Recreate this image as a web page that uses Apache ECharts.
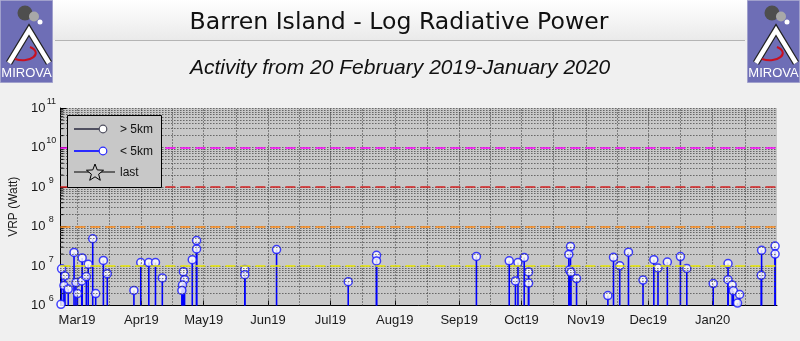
<!DOCTYPE html>
<html><head><meta charset="utf-8">
<script src="https://cdn.jsdelivr.net/npm/echarts@6/dist/echarts.min.js"></script>
<style>html,body{margin:0;padding:0;background:#f0f0f0}#c{width:800px;height:341px}</style>
</head><body><div id="c"></div>
<script>
// ---- data ----
const dates = ['2019-02-21 07:00','2019-02-21 14:00','2019-02-23 05:00','2019-02-22 17:00','2019-02-24 19:00','2019-02-27 14:00','2019-02-28 12:00','2019-03-01 05:00','2019-03-03 12:00','2019-03-03 07:00',
'2019-03-05 12:00','2019-03-06 10:00','2019-03-08 14:00','2019-03-10 00:00','2019-03-13 17:00','2019-03-15 14:00','2019-03-28 10:00','2019-03-31 17:00','2019-04-04 14:00','2019-04-07 19:00',
'2019-04-11 02:00','2019-04-21 05:00','2019-04-21 19:00','2019-04-20 19:00','2019-04-20 12:00','2019-04-25 12:00','2019-04-27 14:00','2019-04-27 14:00','2019-05-20 19:00','2019-05-20 19:00',
'2019-06-05 02:00','2019-07-09 14:00','2019-07-23 05:00','2019-07-23 05:00','2019-09-09 07:00','2019-09-25 02:00','2019-09-28 02:00','2019-09-29 07:00','2019-10-02 07:00','2019-10-04 10:00',
'2019-10-04 10:00','2019-10-24 14:00','2019-10-23 19:00','2019-10-24 02:00','2019-10-24 19:00','2019-10-27 12:00','2019-11-11 14:00','2019-11-14 07:00','2019-11-17 07:00','2019-11-21 12:00',
'2019-11-28 12:00','2019-12-03 17:00','2019-12-05 17:00','2019-12-10 05:00','2019-12-16 12:00','2019-12-19 14:00','2020-01-01 07:00','2020-01-08 10:00','2020-01-08 10:00','2020-01-10 10:00',
'2020-01-11 00:00','2020-01-14 00:00','2020-01-13 00:00','2020-01-24 14:00','2020-01-24 10:00','2020-01-31 02:00','2020-01-31 02:00'];
const vrp = [1.07e6,8.5e6,5.6e6,3.2e6,2.6e6,2.2e7,3.8e6,2.0e6,1.6e7,4.2e6,
5.4e6,1.1e7,4.9e7,2.0e6,1.38e7,6.4e6,2.4e6,1.22e7,1.22e7,1.22e7,
5.0e6,7.2e6,4.5e6,3.3e6,2.4e6,1.45e7,2.7e7,4.4e7,8.1e6,6.0e6,
2.6e7,4.0e6,1.86e7,1.34e7,1.75e7,1.35e7,4.2e6,1.22e7,1.63e7,7.1e6,
3.7e6,3.1e7,1.96e7,7.9e6,6.9e6,4.8e6,1.78e6,1.66e7,1.02e7,2.24e7,
4.4e6,1.45e7,8.9e6,1.26e7,1.73e7,8.7e6,3.6e6,1.15e7,4.5e6,3.3e6,
2.35e6,1.9e6,1.15e6,2.5e7,5.8e6,3.2e7,2.0e7];
const monthTicks = ['2019-03-01','2019-04-01','2019-05-01','2019-06-01','2019-07-01','2019-08-01','2019-09-01','2019-10-01','2019-11-01','2019-12-01','2020-01-01'];
const monthLabels = ['Mar19','Apr19','May19','Jun19','Jul19','Aug19','Sep19','Oct19','Nov19','Dec19','Jan20'];
const midMonthGrid = ['2019-03-16 12:00','2019-04-16 00:00','2019-05-16 12:00','2019-06-16 00:00','2019-07-16 12:00','2019-08-16 12:00','2019-09-16 00:00','2019-10-16 12:00','2019-11-16 00:00','2019-12-16 12:00','2020-01-16 12:00'];
const thresholds = [1e7, 1e8, 1e9, 1e10];
const thresholdColors = ['#e8e800', '#ff8c1a', '#d42020', '#ff00ff'];
const xMin = '2019-02-21', xMax = '2020-02-01';
const yMin = 1e6, yMax = 1e11;

const parseT = s => { const m = s.match(/(\d+)-(\d+)-(\d+)(?:[ T](\d+):(\d+))?/); return Date.UTC(+m[1], +m[2] - 1, +m[3], +(m[4] || 0), +(m[5] || 0)); };
const tickTs = monthTicks.map(parseT);
const points = dates.map((d, i) => [parseT(d), vrp[i]]);
const xMinT = parseT(xMin), xMaxT = parseT(xMax);

// minor log values (2..9 x 10^n) for gridlines / ticks
const minorVals = [];
for (let e = 6; e < 11; e++) for (let m = 2; m <= 9; m++) minorVals.push(m * Math.pow(10, e));

const FONT = 'Liberation Sans, Arial, sans-serif';

function logo(x0) {
  return {
    type: 'group', x: x0, y: 0, silent: true,
    children: [
      {type: 'rect', shape: {x: 0.5, y: 0.5, width: 52, height: 82}, style: {fill: '#6e6eb6', stroke: '#a0a0cc', lineWidth: 1}},
      {type: 'circle', shape: {cx: 25, cy: 13, r: 7.5}, style: {fill: '#4e4e4e'}},
      {type: 'circle', shape: {cx: 34, cy: 16.5, r: 5}, style: {fill: '#a8a8a8'}},
      {type: 'circle', shape: {cx: 40, cy: 22, r: 2.5}, style: {fill: '#ffffff'}},
      {type: 'polyline', shape: {points: [[9, 63], [29, 30], [49, 63]]}, style: {stroke: '#222', lineWidth: 7, fill: null, lineJoin: 'miter'}},
      {type: 'polyline', shape: {points: [[9, 63], [29, 30], [49, 63]]}, style: {stroke: '#fff', lineWidth: 4.5, fill: null, lineJoin: 'miter'}},
      {type: 'bezierCurve', shape: {x1: 15, y1: 59, cpx1: 30, cpy1: 64, cpx2: 44, cpy2: 53, x2: 30, y2: 47}, style: {stroke: '#c81020', lineWidth: 2, fill: null}},
      {type: 'text', x: 26.5, y: 73, style: {text: 'MIROVA', fill: '#fff', font: '13px ' + FONT, align: 'center', verticalAlign: 'middle'}}
    ]
  };
}

function starPts(cx, cy, R, r) {
  const p = [];
  for (let i = 0; i < 10; i++) {
    const a = -Math.PI / 2 + i * Math.PI / 5;
    const rr = i % 2 ? r : R;
    p.push([cx + rr * Math.cos(a), cy + rr * Math.sin(a)]);
  }
  return p;
}

const LZ = 100;
const chart = echarts.init(document.getElementById('c'), null, {renderer: 'canvas'});
const option = {
  backgroundColor: '#f0f0f0',
  animation: false,
  grid: {left: 60, right: 23, top: 108, bottom: 35.5, show: true, backgroundColor: '#c8c8c8', borderWidth: 0},
  xAxis: {
    type: 'value', min: xMinT, max: xMaxT,
    axisLine: {show: true, lineStyle: {color: '#000', width: 1}},
    axisTick: {show: true, inside: true, length: 5, lineStyle: {color: '#000'}, customValues: tickTs},
    axisLabel: {
      show: true, customValues: tickTs, margin: 8, color: '#1a1a1a', fontSize: 13, fontFamily: FONT,
      formatter: v => { const i = tickTs.indexOf(+v); return i >= 0 ? monthLabels[i] : ''; }
    },
    splitLine: {show: false}
  },
  yAxis: {
    type: 'log', logBase: 10, min: yMin, max: yMax,
    name: 'VRP (Watt)', nameLocation: 'middle', nameGap: 34, nameRotate: 90,
    nameTextStyle: {color: '#1a1a1a', fontSize: 12, fontFamily: FONT},
    axisLine: {show: true, lineStyle: {color: '#000', width: 1}},
    axisTick: {show: true, inside: true, length: 6, lineStyle: {color: '#000'}},
    axisLabel: {
      margin: 4, align: 'right',
      formatter: v => '{b|10}{e|' + Math.round(Math.log10(v)) + '}',
      rich: {
        b: {fontSize: 13, fontFamily: FONT, color: '#1a1a1a'},
        e: {fontSize: 9, fontFamily: FONT, color: '#1a1a1a', width: 10, align: 'left', padding: [0, 0, 13, 1]}
      }
    },
    splitLine: {show: true, lineStyle: {color: '#333', type: [1, 2], width: 1}}
  },
  graphic: [
    {type: 'rect', silent: true, shape: {x: 53, y: 0, width: 694, height: 40},
      style: {fill: new echarts.graphic.LinearGradient(0, 0, 0, 1, [{offset: 0, color: '#ffffff'}, {offset: 1, color: '#eaeaea'}])}},
    {type: 'line', silent: true, shape: {x1: 55, y1: 40.5, x2: 745, y2: 40.5}, style: {stroke: '#b4b4b4', lineWidth: 1}},
    {type: 'text', x: 399, y: 23, style: {text: 'Barren Island - Log Radiative Power', font: '23.6px DejaVu Sans, sans-serif', fill: '#111', align: 'center', verticalAlign: 'middle'}},
    {type: 'text', x: 400, y: 68, style: {text: 'Activity from 20 February 2019-January 2020', font: 'italic 21px ' + FONT, fill: '#111', align: 'center', verticalAlign: 'middle'}},
    logo(0), logo(747),
    {type: 'rect', z: LZ, silent: true, shape: {x: 67.5, y: 115.5, width: 94, height: 72}, style: {fill: '#c8c8c8', stroke: '#000', lineWidth: 1}},
    {type: 'line', z: LZ + 1, silent: true, shape: {x1: 74, y1: 129, x2: 103, y2: 129}, style: {stroke: '#505060', lineWidth: 2}},
    {type: 'circle', z: LZ + 2, silent: true, shape: {cx: 103, cy: 129, r: 3.8}, style: {fill: '#fff', stroke: '#505060', lineWidth: 1.2}},
    {type: 'text', z: LZ + 1, silent: true, x: 120, y: 130, style: {text: '> 5km', font: '12px ' + FONT, fill: '#111', verticalAlign: 'middle'}},
    {type: 'line', z: LZ + 1, silent: true, shape: {x1: 74, y1: 151, x2: 103, y2: 151}, style: {stroke: '#2a2aff', lineWidth: 2}},
    {type: 'circle', z: LZ + 2, silent: true, shape: {cx: 103, cy: 151, r: 3.8}, style: {fill: '#fff', stroke: '#2a2aff', lineWidth: 1.2}},
    {type: 'text', z: LZ + 1, silent: true, x: 120, y: 152, style: {text: '< 5km', font: '12px ' + FONT, fill: '#111', verticalAlign: 'middle'}},
    {type: 'line', z: LZ + 1, silent: true, shape: {x1: 74, y1: 172, x2: 115, y2: 172}, style: {stroke: '#000', lineWidth: 1}},
    {type: 'polygon', z: LZ + 2, silent: true, shape: {points: starPts(95, 173, 9, 3.8)}, style: {fill: '#c8c8c8', stroke: '#000', lineWidth: 1}},
    {type: 'text', z: LZ + 1, silent: true, x: 120, y: 173, style: {text: 'last', font: '12px ' + FONT, fill: '#111', verticalAlign: 'middle'}}
  ],
  series: [
    { // grid helpers
      type: 'line', data: [], z: 1, silent: true,
      markLine: {
        silent: true, symbol: 'none', label: {show: false}, animation: false,
        data: [].concat(
          minorVals.map(v => ({yAxis: v, lineStyle: {color: '#333', type: [1, 2], width: 1}})),
          monthTicks.concat(midMonthGrid).map(d => ({xAxis: parseT(d), lineStyle: {color: '#333', type: [1, 2], width: 1}})),
          thresholds.map((v, i) => ({yAxis: v, lineStyle: {color: thresholdColors[i], type: [10, 5], width: 1.6}}))
        )
      }
    },
    { // minor y ticks on left axis
      type: 'custom', z: 2, silent: true, clip: false,
      data: minorVals.map(v => [xMinT, v]),
      renderItem: (params, api) => {
        const p = api.coord([api.value(0), api.value(1)]);
        return {type: 'line', shape: {x1: p[0], y1: p[1], x2: p[0] + 3, y2: p[1]}, style: {stroke: '#000', lineWidth: 1}};
      }
    },
    { // stems
      type: 'custom', name: '< 5km', z: 3, silent: true,
      data: points, encode: {x: 0, y: 1},
      renderItem: (params, api) => {
        const t = api.value(0), v = api.value(1);
        const top = api.coord([t, v]), bot = api.coord([t, yMin]);
        return {type: 'line', shape: {x1: top[0], y1: top[1], x2: bot[0], y2: bot[1]}, style: {stroke: '#0000ff', lineWidth: 1.6}};
      }
    },
    {
      type: 'scatter', name: '< 5km', z: 4, data: points, symbol: 'circle', symbolSize: 8,
      itemStyle: {color: '#ffffff', borderColor: '#1414ff', borderWidth: 1.5}
    }
  ]
};
chart.setOption(option);
</script></body></html>
